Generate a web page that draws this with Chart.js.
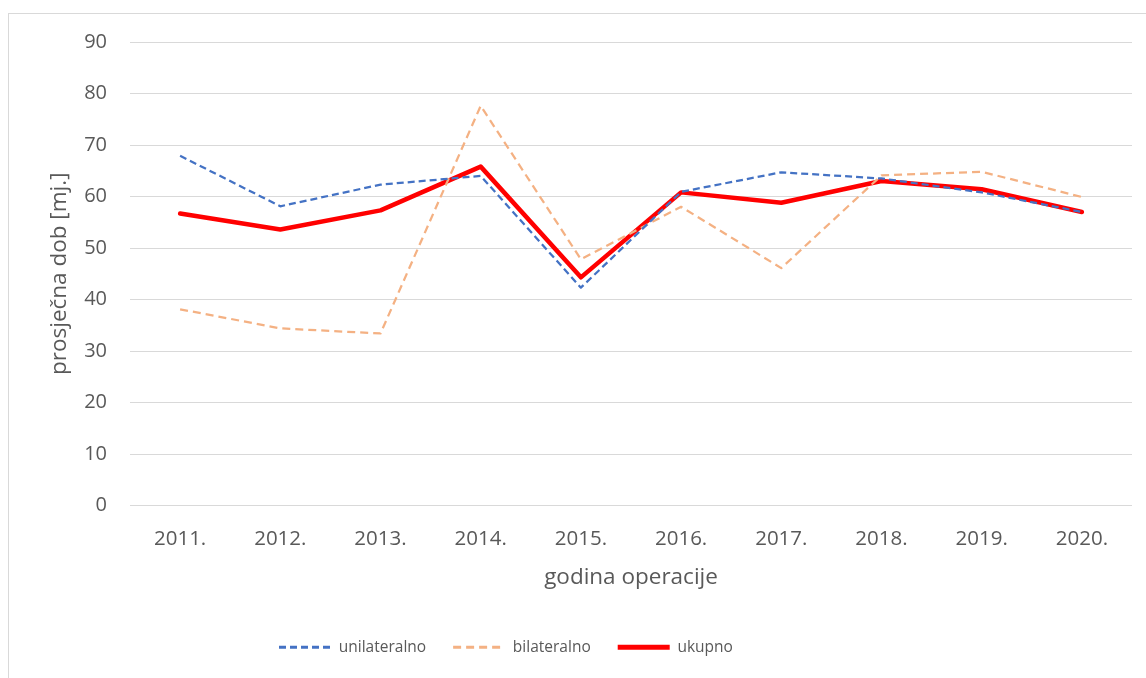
<!DOCTYPE html>
<html><head><meta charset="utf-8">
<script src="https://cdn.jsdelivr.net/npm/chart.js@4/dist/chart.umd.min.js"></script>
<style>html,body{margin:0;padding:0;background:#fff;overflow:hidden}#wrap{position:absolute;left:0;top:0;width:1146px;height:678px}</style>
</head><body><div id="wrap"><canvas id="c"></canvas></div>
<script>
const categories = ['2011.', '2012.', '2013.', '2014.', '2015.', '2016.', '2017.', '2018.', '2019.', '2020.'];
const unilateralno = [67.9, 58.1, 62.3, 64.0, 42.3, 60.9, 64.7, 63.5, 60.8, 57.0];
const bilateralno = [38.1, 34.4, 33.4, 77.6, 47.8, 58.0, 46.1, 64.1, 64.8, 59.9];
const ukupno = [56.7, 53.6, 57.3, 65.8, 44.3, 60.8, 58.8, 63.0, 61.4, 57.0];
const yTicks = [0, 10, 20, 30, 40, 50, 60, 70, 80, 90];
const seriesNames = ['unilateralno', 'bilateralno', 'ukupno'];

const FONT = "'Open Sans', sans-serif";
const TXT = '#595959';

const framePlugin = {
  id: 'frame',
  afterLayout(chart) {
    // Excel places the legend slightly left of centre
    if (chart.legend) chart.legend.left = 252;
  },
  beforeDraw(chart) {
    const ctx = chart.ctx;
    ctx.save();
    ctx.fillStyle = '#fff';
    ctx.fillRect(0, 0, chart.width, chart.height);
    ctx.strokeStyle = '#D9D9D9';
    ctx.lineWidth = 1;
    ctx.strokeRect(8.5, 13.5, 1160, 700);
    ctx.restore();
  }
};

new Chart(document.getElementById('c'), {
  type: 'line',
  data: {
    labels: categories,
    datasets: [
      { label: seriesNames[0], data: unilateralno, borderColor: '#4472C4', backgroundColor: '#4472C4', borderWidth: 2.25, borderDash: [7, 4], pointRadius: 0, tension: 0, borderJoinStyle: 'round' },
      { label: seriesNames[1], data: bilateralno, borderColor: '#F4B183', backgroundColor: '#F4B183', borderWidth: 2.25, borderDash: [8, 5], pointRadius: 0, tension: 0, borderJoinStyle: 'round' },
      { label: seriesNames[2], data: ukupno, borderColor: '#FF0000', backgroundColor: '#FF0000', borderWidth: 4.5, pointRadius: 0, tension: 0, borderJoinStyle: 'round', borderCapStyle: 'round' }
    ]
  },
  options: {
    responsive: true,
    maintainAspectRatio: false,
    animation: false,
    layout: { padding: { left: 0, right: 14, top: 42, bottom: 13 } },
    plugins: {
      legend: {
        position: 'bottom',
        align: 'start',
        labels: {
          usePointStyle: true,
          pointStyle: 'line',
          pointStyleWidth: 52,
          boxHeight: 16,
          padding: 27,
          color: TXT,
          font: { family: FONT, size: 15.5 },
          generateLabels(chart) {
            return chart.data.datasets.map((ds, i) => ({
              text: ds.label,
              fillStyle: ds.borderColor,
              strokeStyle: ds.borderColor,
              lineWidth: i === 2 ? 5 : 3,
              lineDash: ds.borderDash || [],
              lineCap: 'butt',
              pointStyle: 'line',
              hidden: false,
              datasetIndex: i,
              fontColor: TXT
            }));
          }
        }
      },
      tooltip: { enabled: false }
    },
    scales: {
      x: {
        offset: true,
        grid: { display: false, drawTicks: false },
        border: { display: false },
        ticks: { color: TXT, font: { family: FONT, size: 20.5 }, padding: 21, maxRotation: 0 },
        title: { display: true, text: 'godina operacije', color: TXT, font: { family: FONT, size: 22.5 }, padding: { top: 0, bottom: 21 } },
        afterFit(s) { s.height = 107; }
      },
      y: {
        min: 0, max: 90,
        afterBuildTicks(s) { s.ticks = yTicks.map(v => ({ value: v })); },
        grid: { color: '#D9D9D9', lineWidth: 1, drawTicks: false },
        border: { display: false },
        ticks: { color: TXT, font: { family: FONT, size: 20 }, padding: 23 },
        title: { display: true, text: 'prosječna dob [mj.]', color: TXT, font: { family: FONT, size: 22.5 }, padding: { top: 46, bottom: 0 } },
        afterFit(s) { s.width = 130; }
      }
    }
  },
  plugins: [framePlugin]
});
</script>
</body></html>
